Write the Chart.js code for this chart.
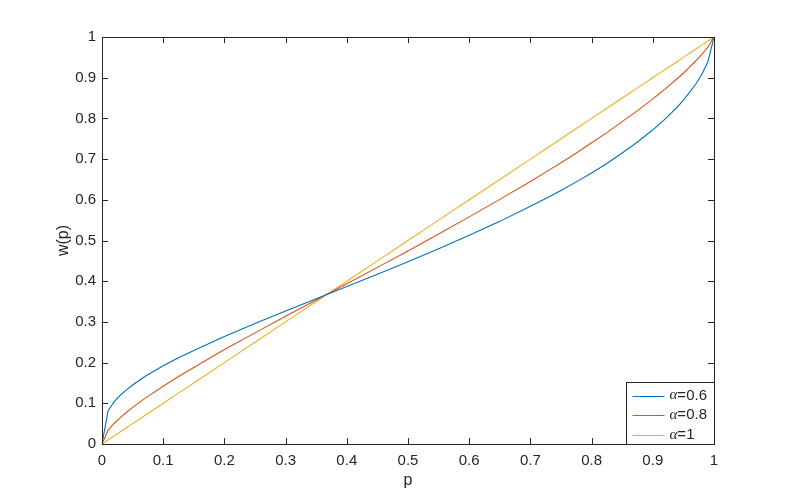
<!DOCTYPE html>
<html>
<head>
<meta charset="utf-8">
<script src="https://cdn.jsdelivr.net/npm/chart.js@4/dist/chart.umd.min.js"></script>
<style>
  html, body { margin: 0; padding: 0; background: #fff; }
  #wrap { width: 789px; height: 499px; }
</style>
</head>
<body>
<div id="wrap"><canvas id="myChart" width="789" height="499"></canvas></div>
<script>
// values
const pValues  = [0, 0.01, 0.02, 0.03, 0.04, 0.05, 0.07, 0.1, 0.125, 0.15, 0.2, 0.25, 0.3, 0.35, 0.4, 0.45, 0.5, 0.55, 0.6, 0.65, 0.7, 0.725, 0.75, 0.775, 0.8, 0.825, 0.85, 0.875, 0.9, 0.91, 0.92, 0.93, 0.94, 0.95, 0.96, 0.97, 0.98, 0.99, 1];
const wAlpha06 = [0, 0.082, 0.104, 0.120, 0.133, 0.145, 0.166, 0.192, 0.212, 0.230, 0.264, 0.296, 0.327, 0.357, 0.387, 0.417, 0.448, 0.480, 0.513, 0.547, 0.584, 0.603, 0.623, 0.644, 0.666, 0.689, 0.715, 0.742, 0.772, 0.785, 0.798, 0.813, 0.828, 0.845, 0.864, 0.884, 0.908, 0.939, 1];
const wAlpha08 = [0, 0.034, 0.051, 0.065, 0.078, 0.090, 0.112, 0.142, 0.166, 0.188, 0.232, 0.273, 0.314, 0.354, 0.394, 0.434, 0.474, 0.516, 0.558, 0.601, 0.645, 0.668, 0.691, 0.715, 0.740, 0.765, 0.792, 0.819, 0.848, 0.860, 0.872, 0.885, 0.898, 0.911, 0.926, 0.941, 0.957, 0.975, 1];
const wAlpha1  = [0, 0.01, 0.02, 0.03, 0.04, 0.05, 0.07, 0.1, 0.125, 0.15, 0.2, 0.25, 0.3, 0.35, 0.4, 0.45, 0.5, 0.55, 0.6, 0.65, 0.7, 0.725, 0.75, 0.775, 0.8, 0.825, 0.85, 0.875, 0.9, 0.91, 0.92, 0.93, 0.94, 0.95, 0.96, 0.97, 0.98, 0.99, 1];
const alphaLabels = ['0.6', '0.8', '1'];
const seriesColors = ['#0072BD', '#D95319', '#EDB120'];

const axisColor = '#262626';
const tickFont = { family: "'Liberation Sans', Arial, sans-serif", size: 15 };

function toPoints(ys) {
  return pValues.map((p, i) => ({ x: p, y: ys[i] }));
}

function fmt(v) {
  return String(parseFloat(v.toFixed(1)));
}

// box, inward ticks and legend like matlab
const matlabAxes = {
  id: 'matlabAxes',
  afterDraw(chart) {
    const ctx = chart.ctx;
    const a = chart.chartArea;
    const xs = chart.scales.x, ys = chart.scales.y;
    const tl = 6;
    ctx.save();
    ctx.strokeStyle = axisColor;
    ctx.lineWidth = 1;
    ctx.beginPath();
    xs.ticks.forEach(t => {
      const px = Math.round(xs.getPixelForValue(t.value)) + 0.5;
      ctx.moveTo(px, a.bottom); ctx.lineTo(px, a.bottom - tl);
      ctx.moveTo(px, a.top); ctx.lineTo(px, a.top + tl);
    });
    ys.ticks.forEach(t => {
      const py = Math.round(ys.getPixelForValue(t.value)) + 0.5;
      ctx.moveTo(a.left, py); ctx.lineTo(a.left + tl, py);
      ctx.moveTo(a.right, py); ctx.lineTo(a.right - tl, py);
    });
    ctx.stroke();
    ctx.strokeRect(Math.round(a.left) + 0.5, Math.round(a.top) + 0.5,
                   Math.round(a.right - a.left), Math.round(a.bottom - a.top));

    // legend in lower right corner
    const bw = 88, bh = 62;
    const bx = Math.round(a.right) - bw + 0.5, by = Math.round(a.bottom) - bh + 0.5;
    ctx.fillStyle = '#fff';
    ctx.fillRect(bx, by, bw, bh);
    ctx.strokeStyle = axisColor;
    ctx.strokeRect(bx, by, bw, bh);
    ctx.textBaseline = 'middle';
    chart.data.datasets.forEach((ds, i) => {
      const cy = by + 13 + i * 19.6;
      ctx.strokeStyle = ds.borderColor;
      ctx.beginPath();
      ctx.moveTo(bx + 6, Math.round(cy) + 0.5);
      ctx.lineTo(bx + 38, Math.round(cy) + 0.5);
      ctx.stroke();
      ctx.fillStyle = axisColor;
      ctx.font = "italic 15px 'Liberation Serif', serif";
      ctx.fillText('\u03b1', bx + 43, cy);
      const w = ctx.measureText('\u03b1').width;
      ctx.font = "15px 'Liberation Sans', Arial, sans-serif";
      ctx.fillText('=' + alphaLabels[i], bx + 43 + w, cy);
    });
    ctx.restore();
  }
};

const ctx = document.getElementById('myChart').getContext('2d');
const myChart = new Chart(ctx, {
  type: 'line',
  data: {
    datasets: [
      { label: '\u03b1=0.6', data: toPoints(wAlpha06), borderColor: seriesColors[0] },
      { label: '\u03b1=0.8', data: toPoints(wAlpha08), borderColor: seriesColors[1] },
      { label: '\u03b1=1',   data: toPoints(wAlpha1),  borderColor: seriesColors[2] }
    ].map(d => Object.assign(d, { borderWidth: 1.1, pointRadius: 0, tension: 0, fill: false }))
  },
  options: {
    responsive: false,
    animation: false,
    layout: { padding: { left: 0, top: 37, right: 75, bottom: 0 } },
    plugins: { legend: { display: false }, tooltip: { enabled: false } },
    scales: {
      x: {
        type: 'linear', min: 0, max: 1,
        grid: { display: false, drawTicks: false },
        border: { display: false },
        ticks: { stepSize: 0.1, color: axisColor, font: tickFont, padding: 8, maxRotation: 0,
                 callback: v => fmt(v) },
        title: { display: true, text: 'p', color: axisColor,
                 font: { family: tickFont.family, size: 16 }, padding: { top: 0, bottom: 9 } },
        afterFit: s => { s.height = 55; }
      },
      y: {
        type: 'linear', min: 0, max: 1,
        grid: { display: false, drawTicks: false },
        border: { display: false },
        ticks: { stepSize: 0.1, color: axisColor, font: tickFont, padding: 6,
                 callback: v => fmt(v) },
        title: { display: true, text: 'w(p)', color: axisColor,
                 font: { family: tickFont.family, size: 16 }, padding: { top: 54, bottom: 0 } },
        afterFit: s => { s.width = 102; }
      }
    }
  },
  plugins: [matlabAxes]
});
</script>
</body>
</html>
